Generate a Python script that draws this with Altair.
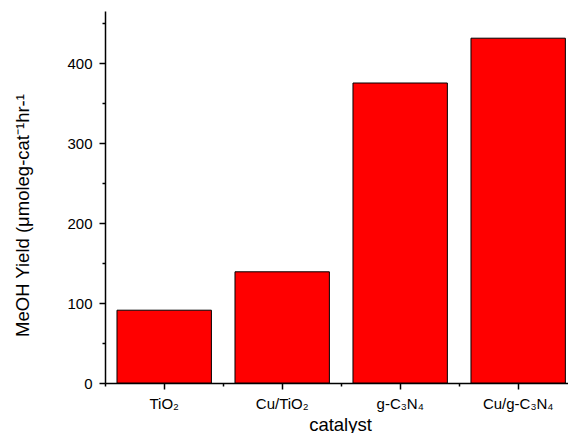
import altair as alt
import pandas as pd

catalysts = ["TiO₂", "Cu/TiO₂", "g-C₃N₄", "Cu/g-C₃N₄"]
yields = [91, 139, 375, 431]
y_major = [0, 100, 200, 300, 400]
y_minor = [50, 150, 250, 350, 450]

df = pd.DataFrame({"catalyst": catalysts, "yield": yields})

FONT = "Liberation Sans"
xscale = alt.Scale(domain=catalysts, paddingInner=0.2, paddingOuter=0.062, align=0.82)
yscale = alt.Scale(domain=[0, 465], nice=False)

base = alt.Chart(df)

bars = base.mark_bar(color="#FF0000", stroke="black", strokeWidth=1).encode(
    x=alt.X("catalyst:N", scale=xscale, sort=catalysts,
            axis=alt.Axis(title="catalyst", orient="bottom", labelAngle=0, tickSize=6,
                          labelPadding=7, titleX=235, titleY=47,
                          titleBaseline="alphabetic", titleAlign="center")),
    y=alt.Y("yield:Q", scale=yscale,
            axis=alt.Axis(values=y_major, orient="left", tickSize=6, labelPadding=7,
                          title="MeOH Yield (μmoleg-cat⁻¹hr-¹",
                          titleX=-83, titleY=204, titleAngle=270,
                          titleBaseline="middle", titleAlign="center")),
)

minor = base.mark_bar(opacity=0).encode(
    x=alt.X("catalyst:N", scale=xscale, sort=catalysts,
            axis=alt.Axis(title=None, orient="bottom", labels=False, domain=False,
                          tickOffset=-59, tickSize=3)),
    y=alt.Y("yield:Q", scale=yscale,
            axis=alt.Axis(values=y_minor, orient="left", labels=False, domain=False,
                          tickSize=3, title=None)),
)

chart = alt.layer(bars, minor).resolve_axis(
    x="independent", y="independent"
).properties(
    width=463, height=372,
    autosize=alt.AutoSizeParams(type="none"),
    padding={"left": 97, "top": 3, "right": 0, "bottom": 50},
).configure_view(stroke=None).configure_axis(
    grid=False,
    domainColor="black", domainWidth=1.5,
    tickColor="black", tickWidth=1.5,
    labelColor="black", titleColor="black",
    labelFont=FONT, titleFont=FONT,
    labelFontSize=15, titleFontSize=18.5,
    titleFontWeight="normal",
)

chart.save("out.html", embed_options={"renderer": "svg", "actions": False})
